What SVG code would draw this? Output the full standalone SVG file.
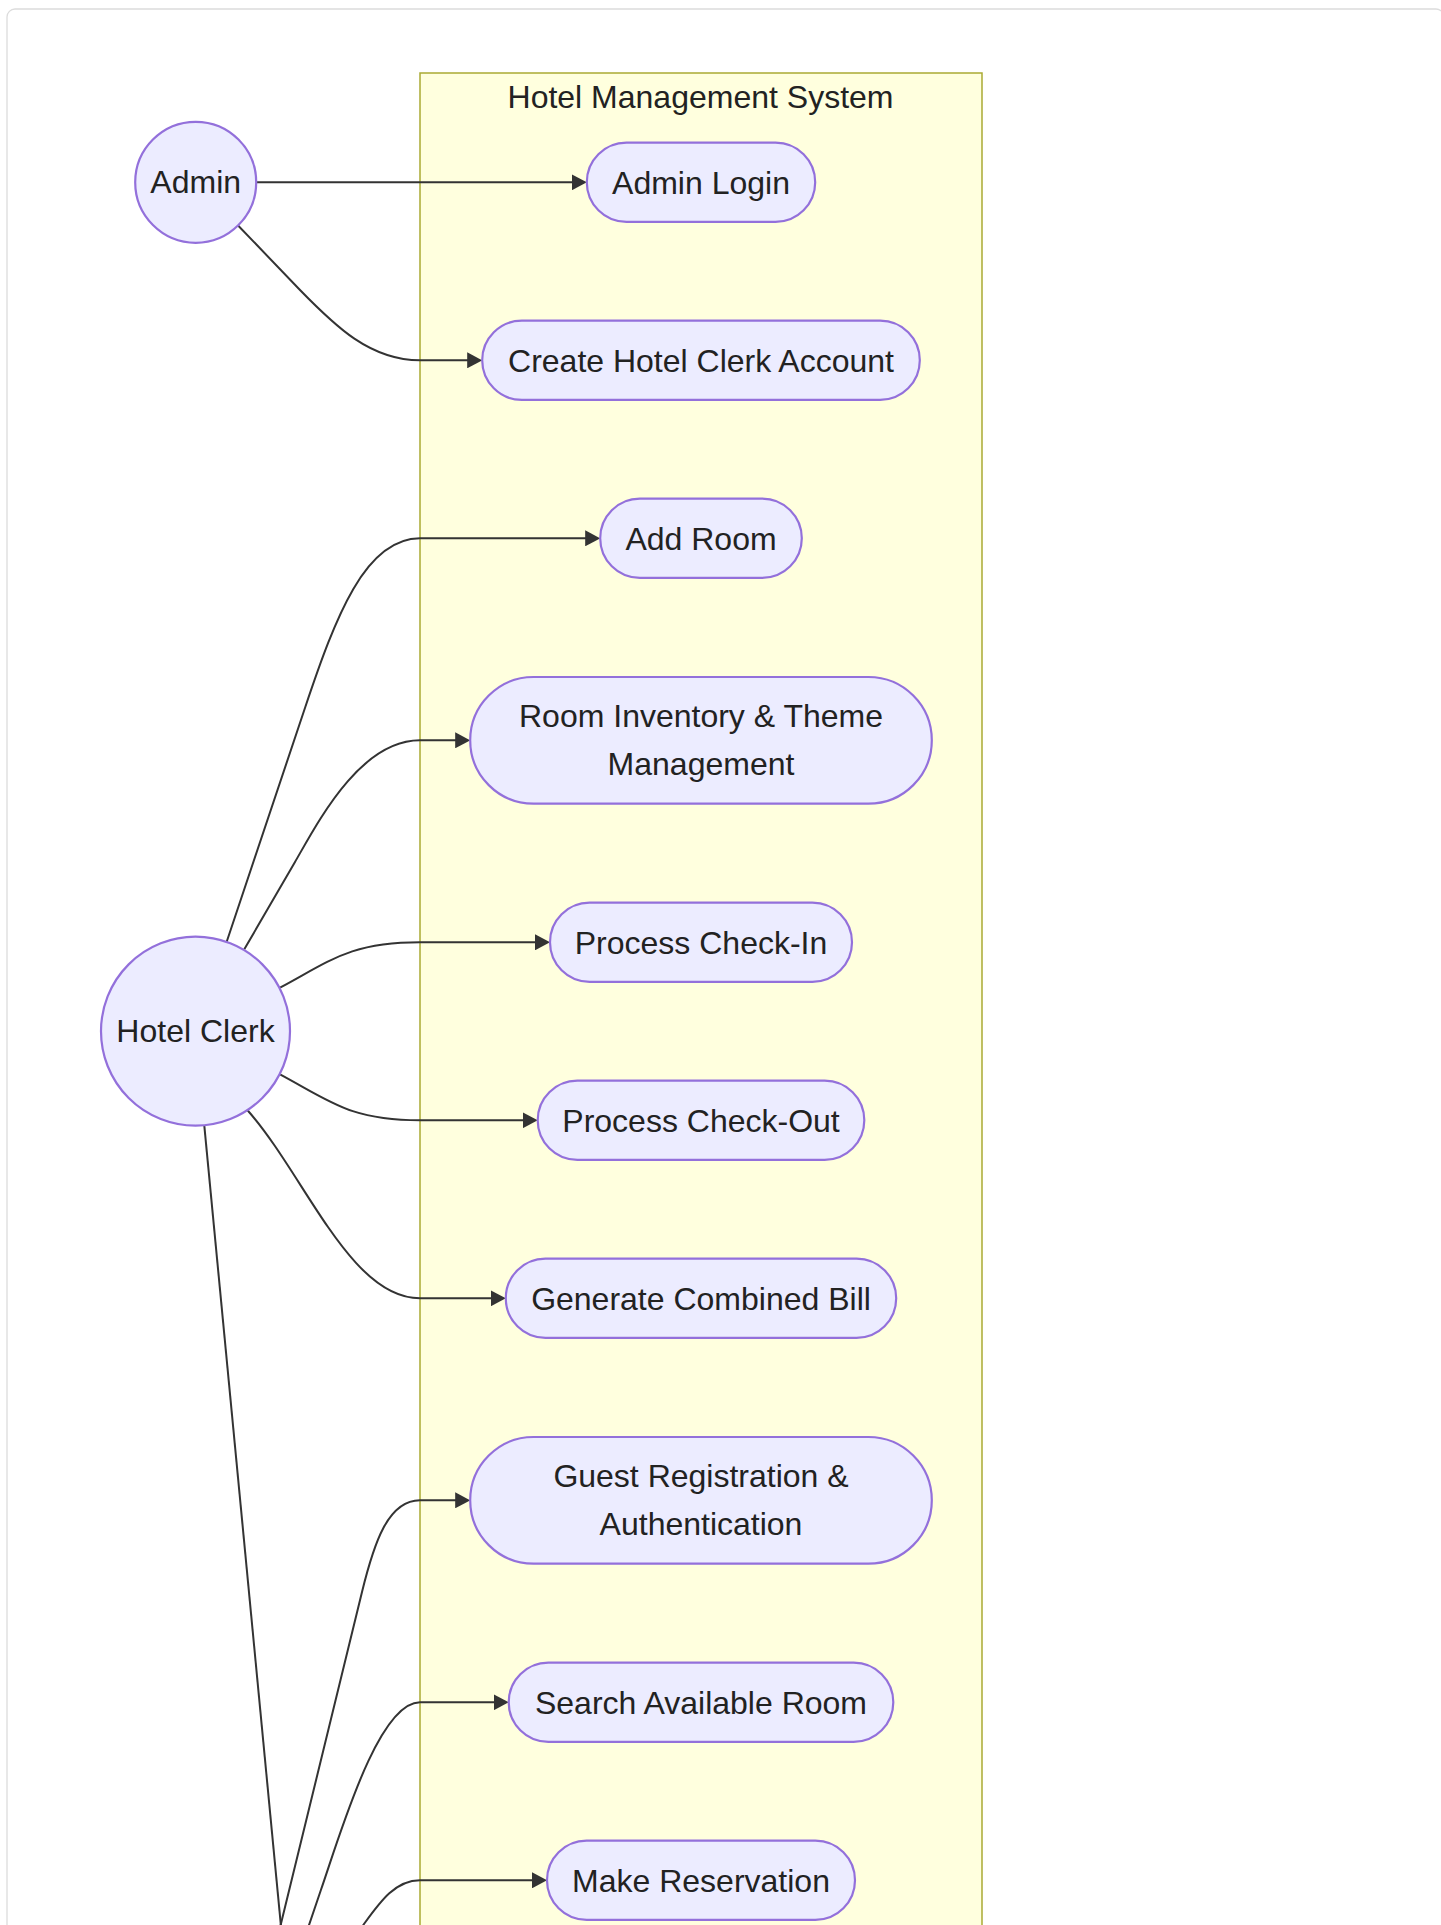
<svg xmlns="http://www.w3.org/2000/svg" width="1441" height="1925" viewBox="0 0 1441 1925">
  <style>
    .frame { fill: #ffffff; stroke: #dcdcdc; stroke-width: 1.3; }
    .cluster { fill: #ffffde; stroke: #aaaa33; stroke-width: 1.5; }
    .actor circle, .usecase rect { fill: #ececff; stroke: #9370db; stroke-width: 2.2; }
    .label { font-family: "Liberation Sans", Arial, Helvetica, sans-serif; font-size: 32px; fill: #222222; text-anchor: middle; }
    .edge { fill: none; stroke: #333333; stroke-width: 2; }
    .edge.arrow { marker-end: url(#arrowhead); }
  </style>
  <defs>
    <marker id="arrowhead" viewBox="0 0 10 10" preserveAspectRatio="none" markerUnits="userSpaceOnUse" markerWidth="15" markerHeight="16" refX="8" refY="5" orient="auto">
      <path d="M0,0 L10,5 L0,10 z" fill="#333333"/>
    </marker>
  </defs>

  <!-- page frame -->
  <rect class="frame" x="7" y="9" width="1437" height="2000" rx="8" ry="8"/>

  <!-- system boundary -->
  <g id="system">
    <rect class="cluster" x="420" y="73" width="562" height="1960"/>
    <text class="label" x="700.5" y="108">Hotel Management System</text>
  </g>

  <!-- connectors -->
  <g id="connectors">
    <path class="edge arrow" d="M256.3,182.3 L583.8,182.3"/>
    <path class="edge arrow" d="M238.3,225.7 L300,290 C335,326 370,360.3 420,360.3 L479.2,360.3"/>
    <path class="edge arrow" d="M226.7,941.7 L305.3,707 C335.5,617 365,538.3 420,538.3 L597.2,538.3"/>
    <path class="edge arrow" d="M244.3,949.3 L295,862 C318,822 360,740.3 420,740.3 L467.2,740.3"/>
    <path class="edge arrow" d="M280,987.7 C330,961 350,942.3 420,942.3 L547,942.3"/>
    <path class="edge arrow" d="M280,1074.3 C330,1101 350,1120.3 420,1120.3 L534.7,1120.3"/>
    <path class="edge arrow" d="M247.3,1110 C305,1175 350,1298.3 420,1298.3 L502.8,1298.3"/>
    <path class="edge" d="M204.3,1125.7 L300,2125"/>
    <path class="edge arrow" d="M255,2030 L362,1592 C374,1543 388,1500.3 420,1500.3 L467.2,1500.3"/>
    <path class="edge arrow" d="M270,2040 L320.9,1890 C340,1835 378,1702.3 420,1702.3 L505.7,1702.3"/>
    <path class="edge arrow" d="M315,1990 L363.3,1925 C380,1902 395,1880.3 420,1880.3 L544,1880.3"/>
  </g>

  <!-- actors -->
  <g id="admin" class="actor">
    <circle cx="195.7" cy="182.3" r="60.5"/>
    <text class="label" x="195.7" y="193.4">Admin</text>
  </g>
  <g id="hotel-clerk" class="actor">
    <circle cx="195.5" cy="1031.2" r="94.5"/>
    <text class="label" x="195.5" y="1042.4">Hotel Clerk</text>
  </g>

  <!-- use cases -->
  <g id="admin-login" class="usecase">
    <rect x="586.8" y="142.65" width="228.4" height="79.3" rx="39.65"/>
    <text class="label" x="701" y="193.5">Admin Login</text>
  </g>
  <g id="create-clerk-account" class="usecase">
    <rect x="482.2" y="320.65" width="437.6" height="79.3" rx="39.65"/>
    <text class="label" x="701" y="371.5">Create Hotel Clerk Account</text>
  </g>
  <g id="add-room" class="usecase">
    <rect x="600.2" y="498.65" width="201.6" height="79.3" rx="39.65"/>
    <text class="label" x="701" y="549.5">Add Room</text>
  </g>
  <g id="room-inventory" class="usecase">
    <rect x="470.2" y="677" width="461.6" height="126.7" rx="63.35"/>
    <text class="label" x="701" y="726.7">Room Inventory &amp; Theme</text>
    <text class="label" x="701" y="775">Management</text>
  </g>
  <g id="check-in" class="usecase">
    <rect x="550" y="902.65" width="302" height="79.3" rx="39.65"/>
    <text class="label" x="701" y="953.5">Process Check-In</text>
  </g>
  <g id="check-out" class="usecase">
    <rect x="537.7" y="1080.65" width="326.6" height="79.3" rx="39.65"/>
    <text class="label" x="701" y="1131.5">Process Check-Out</text>
  </g>
  <g id="combined-bill" class="usecase">
    <rect x="505.8" y="1258.65" width="390.4" height="79.3" rx="39.65"/>
    <text class="label" x="701" y="1309.5">Generate Combined Bill</text>
  </g>
  <g id="guest-registration" class="usecase">
    <rect x="470.2" y="1437" width="461.6" height="126.7" rx="63.35"/>
    <text class="label" x="701" y="1486.7">Guest Registration &amp;</text>
    <text class="label" x="701" y="1535">Authentication</text>
  </g>
  <g id="search-room" class="usecase">
    <rect x="508.7" y="1662.65" width="384.6" height="79.3" rx="39.65"/>
    <text class="label" x="701" y="1713.5">Search Available Room</text>
  </g>
  <g id="make-reservation" class="usecase">
    <rect x="547" y="1840.65" width="308" height="79.3" rx="39.65"/>
    <text class="label" x="701" y="1891.5">Make Reservation</text>
  </g>
</svg>
